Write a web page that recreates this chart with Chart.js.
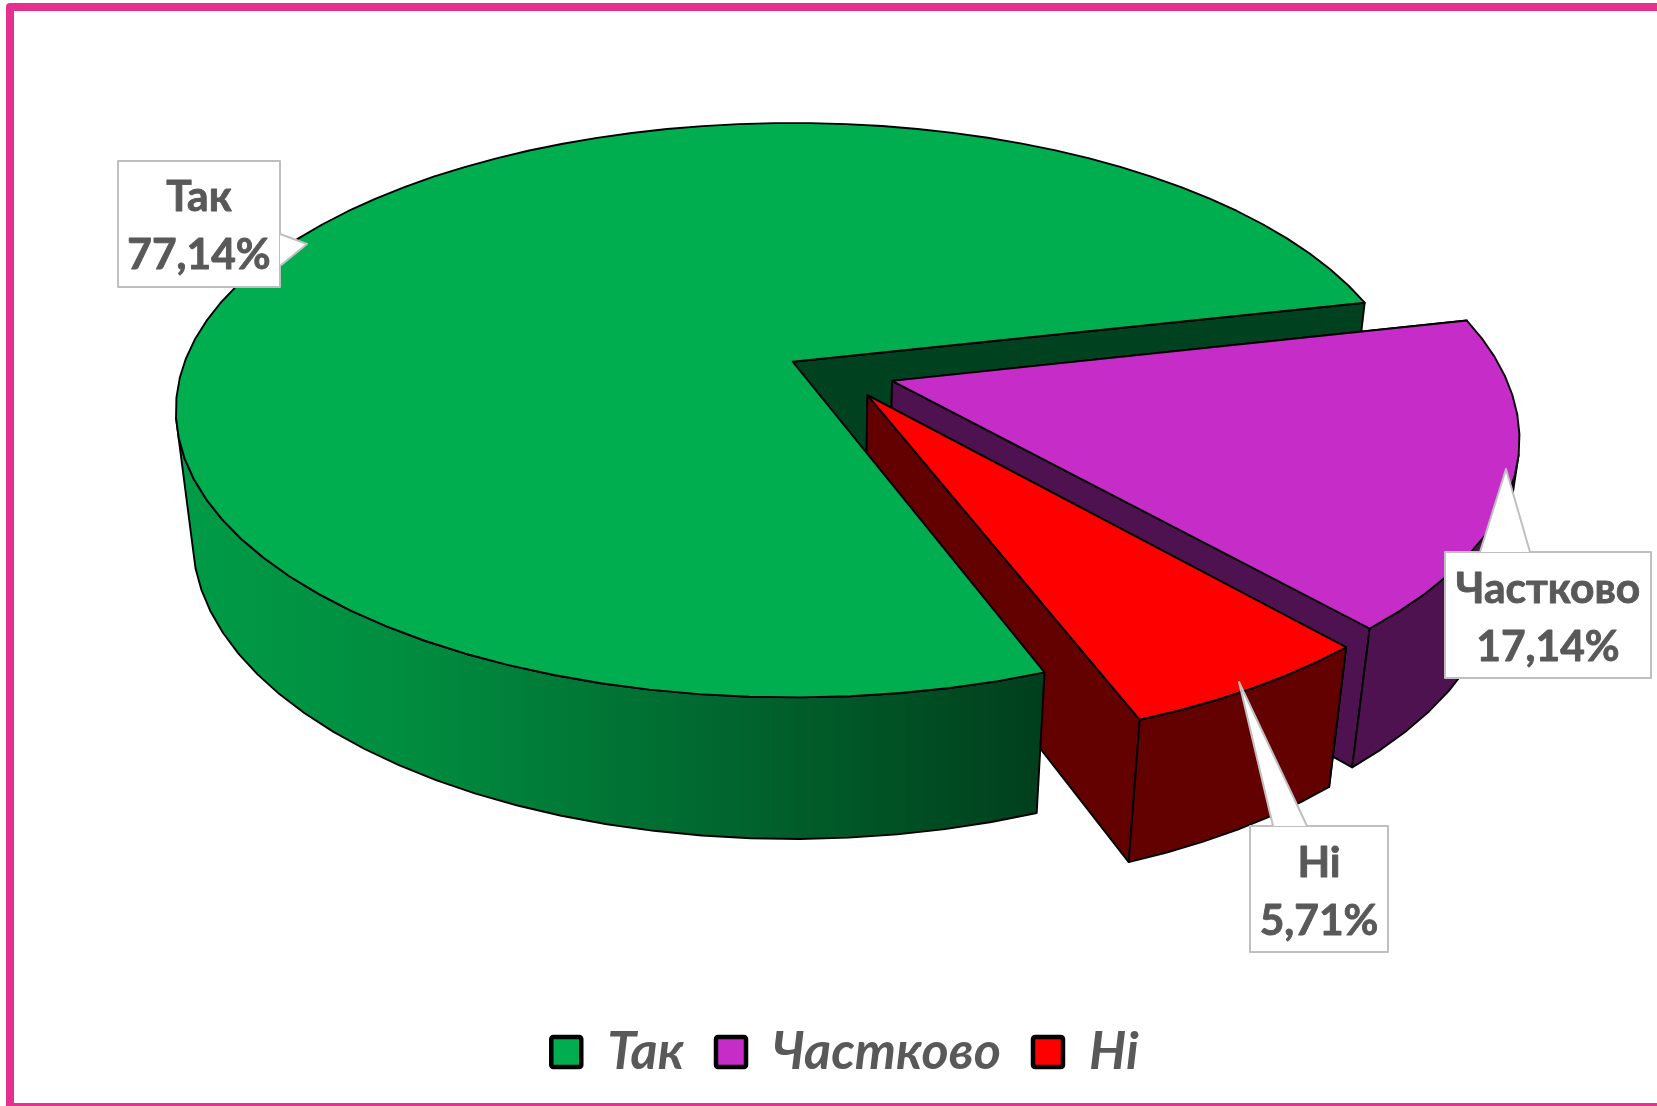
<!DOCTYPE html>
<html lang="uk">
<head>
<meta charset="utf-8">
<title>Так / Частково / Ні</title>
<script src="https://cdn.jsdelivr.net/npm/chart.js@4"></script>
<style>
  html, body { margin: 0; padding: 0; background: #fff; overflow: hidden; }
  #wrap { position: relative; width: 1657px; height: 1106px; overflow: hidden; }
  #frame { position: absolute; left: 6px; top: 3px; width: 1700px; height: 1092px;
           border: 8px solid #e6308f; border-radius: 4px; }
  canvas { position: absolute; left: 0; top: 0; }
</style>
</head>
<body>
<div id="wrap">
  <div id="frame"></div>
  <canvas id="pie" width="1657" height="1106"></canvas>
</div>
<script>
const labels = ['Так', 'Частково', 'Ні'];
const values = [77.14, 17.14, 5.71];
const topColors = ['#00ae4f', '#c62dc8', '#ff0000'];
const wallColors = ['#00421f', '#4f1250', '#630000'];

// Camera for the tilted disc: unit disc (u, v) plus drop h, onto screen px
const CAM = { cx: 792.7, cy: 361.7, a: 608, b: 279, k: 0.169, m: 0.027, e: 130.5 };
// How far each slice is pulled out of the pie, in disc units
const EXPLODE = [[0, 0], [0.1615, 0.068], [0.1205, 0.1174]];
// Callout boxes: box rect, pointer base and tip, text baselines
const CALLOUTS = [
  { x: 118, y: 161, w: 162, h: 126, ptr: [[280, 234], [307, 244], [280, 266]], base: [211, 269] },
  { x: 1445, y: 552, w: 206, h: 126, ptr: [[1530, 552], [1506, 469], [1480, 552]], base: [603, 661] },
  { x: 1250, y: 826, w: 138, h: 126, ptr: [[1307, 826], [1239, 682], [1273, 826]], base: [877, 935] },
];
const STEP = Math.PI / 45; // outline facets

function project(u, v, h) {
  const w = 1 - CAM.k * v + CAM.m * h;
  return [CAM.cx + CAM.a * u / w, CAM.cy + (CAM.b * v + CAM.e * h) / w];
}

function rimPoint(i, angle, h) {
  const off = EXPLODE[i];
  return project(Math.cos(angle) + off[0], Math.sin(angle) + off[1], h);
}

function rimAngles(arc) {
  const n = Math.ceil((arc.endAngle - arc.startAngle) / STEP);
  const out = [];
  for (let j = 0; j <= n; j++) out.push(arc.startAngle + (arc.endAngle - arc.startAngle) * j / n);
  return out;
}

function poly(ctx, pts, fill) {
  ctx.beginPath();
  pts.forEach((p, j) => (j ? ctx.lineTo(p[0], p[1]) : ctx.moveTo(p[0], p[1])));
  ctx.closePath();
  ctx.fillStyle = fill;
  ctx.fill();
  ctx.stroke();
}

function drawWall(ctx, i, angle) {
  const off = EXPLODE[i];
  poly(ctx, [
    project(off[0], off[1], 0),
    rimPoint(i, angle, 0),
    rimPoint(i, angle, 1),
    project(off[0], off[1], 1),
  ], wallColors[i]);
}

function drawRimSide(ctx, i, arc, fill) {
  // keep only the run of facets that faces the viewer
  const angles = rimAngles(arc);
  const front = [];
  for (let j = 0; j < angles.length - 1; j++) {
    const p0 = rimPoint(i, angles[j], 0), p1 = rimPoint(i, angles[j + 1], 0), q1 = rimPoint(i, angles[j + 1], 1);
    const cross = (p1[0] - p0[0]) * (q1[1] - p1[1]) - (p1[1] - p0[1]) * (q1[0] - p1[0]);
    if (cross < 0) front.push(j);
  }
  if (!front.length) return;
  const from = front[0], to = front[front.length - 1] + 1;
  const run = angles.slice(from, to + 1);
  const pts = run.map(t => rimPoint(i, t, 0)).concat(run.slice().reverse().map(t => rimPoint(i, t, 1)));
  poly(ctx, pts, fill);
}

function drawTop(ctx, i, arc) {
  const off = EXPLODE[i];
  const pts = [project(off[0], off[1], 0)].concat(rimAngles(arc).map(t => rimPoint(i, t, 0)));
  poly(ctx, pts, topColors[i]);
}

function drawSlice(ctx, i, arc, sideFill) {
  drawWall(ctx, i, arc.startAngle);
  drawWall(ctx, i, arc.endAngle);
  drawRimSide(ctx, i, arc, sideFill);
  drawTop(ctx, i, arc);
}

function boldText(ctx, text, x, y) {
  // a hairline stroke thickens Lato to the weight of the original labels
  ctx.fillText(text, x, y);
  ctx.strokeText(text, x, y);
}

function drawCallout(ctx, i) {
  const c = CALLOUTS[i];
  ctx.beginPath();
  ctx.rect(c.x, c.y, c.w, c.h);
  ctx.fillStyle = '#fff';
  ctx.fill();
  ctx.strokeStyle = '#bfbfbf';
  ctx.lineWidth = 2;
  ctx.stroke();
  // pointer drawn over the box edge so the outline opens into it
  ctx.beginPath();
  ctx.moveTo(c.ptr[0][0], c.ptr[0][1]);
  ctx.lineTo(c.ptr[1][0], c.ptr[1][1]);
  ctx.lineTo(c.ptr[2][0], c.ptr[2][1]);
  ctx.fill();
  ctx.stroke();
  ctx.fillStyle = '#595959';
  ctx.strokeStyle = '#595959';
  ctx.lineWidth = 0.9;
  ctx.font = 'bold 42.5px Lato';
  ctx.textAlign = 'center';
  ctx.textBaseline = 'alphabetic';
  const mid = c.x + c.w / 2;
  boldText(ctx, labels[i], mid, c.base[0]);
  boldText(ctx, values[i].toFixed(2).replace('.', ',') + '%', mid, c.base[1]);
}

const pie3d = {
  id: 'pie3d',
  beforeDatasetsDraw(chart) {
    const ctx = chart.ctx;
    const arcs = chart.getDatasetMeta(0).data;
    const shade = ctx.createLinearGradient(175, 0, 1040, 0);
    shade.addColorStop(0, '#009c47');
    shade.addColorStop(0.3, '#008a3e');
    shade.addColorStop(0.6, '#006a30');
    shade.addColorStop(1, '#003f1c');

    ctx.save();
    ctx.strokeStyle = '#000';
    ctx.lineWidth = 1.9;
    ctx.lineJoin = 'round';
    // back to front: green's far wall, then the pulled-out slices, then the rest of green
    drawWall(ctx, 0, arcs[0].endAngle);
    drawSlice(ctx, 1, arcs[1], wallColors[1]);
    drawSlice(ctx, 2, arcs[2], wallColors[2]);
    drawRimSide(ctx, 0, arcs[0], shade);
    drawTop(ctx, 0, arcs[0]);
    arcs.forEach((_, i) => drawCallout(ctx, i));
    ctx.restore();
    return false; // the flat arcs are replaced by the drawing above
  },
};

new Chart(document.getElementById('pie'), {
  type: 'pie',
  plugins: [pie3d],
  data: {
    labels,
    datasets: [{
      data: values,
      backgroundColor: topColors,
      borderColor: '#000',
      borderWidth: 4.5,
    }],
  },
  options: {
    responsive: false,
    animation: false,
    rotation: 159.6,
    layout: { padding: { left: 33, bottom: 18 } },
    plugins: {
      tooltip: { enabled: false },
      legend: {
        position: 'bottom',
        labels: {
          boxWidth: 30,
          boxHeight: 30,
          useBorderRadius: true,
          borderRadius: 2,
          padding: 32,
          color: '#595959',
          font: { family: 'Lato', size: 52, style: 'italic', weight: 'bold' },
        },
      },
    },
  },
});
</script>
</body>
</html>
